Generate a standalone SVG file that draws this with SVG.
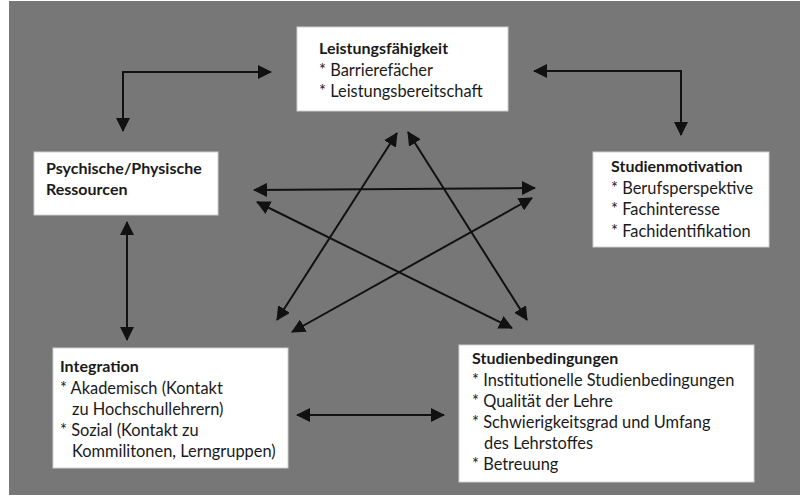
<svg xmlns="http://www.w3.org/2000/svg" width="800" height="500" viewBox="0 0 800 500">
<defs>
<style>
.box{fill:#fff;stroke:#d0d0d0;stroke-width:1}
text{font-family:Lato,"Open Sans","Liberation Sans",sans-serif;font-size:16.4px;fill:#1a1a1a}
.h{font-weight:bold;font-size:16px}
.c line,.c path{stroke:#111;stroke-width:2;fill:none}
</style>
<marker id="ah" viewBox="0 0 14 14" refX="13" refY="7" markerWidth="14" markerHeight="14" markerUnits="userSpaceOnUse" orient="auto-start-reverse">
<path d="M0,0 L14,7 L0,14 z" fill="#111"/>
</marker>
</defs>
<rect x="0" y="0" width="800" height="500" fill="#fff"/>
<rect x="9" y="1" width="791" height="494" fill="#777"/>

<g id="leistung">
<rect class="box" x="297" y="27" width="211" height="84"/>
<text x="319" y="54" class="h">Leistungsfähigkeit</text>
<text x="319" y="76">* Barrierefächer</text>
<text x="319" y="97">* Leistungsbereitschaft</text>
</g>
<g id="ressourcen">
<rect class="box" x="34" y="152" width="184" height="63"/>
<text x="46" y="174" class="h">Psychische/Physische</text>
<text x="46" y="195" class="h">Ressourcen</text>
</g>
<g id="motivation">
<rect class="box" x="593" y="152" width="176" height="95"/>
<text x="611" y="172" class="h">Studienmotivation</text>
<text x="611" y="194">* Berufsperspektive</text>
<text x="611" y="215">* Fachinteresse</text>
<text x="611" y="237">* Fachidentifikation</text>
</g>
<g id="integration">
<rect class="box" x="53" y="348" width="235" height="120"/>
<text x="60" y="372" class="h">Integration</text>
<text x="60" y="394">* Akademisch (Kontakt</text>
<text x="72" y="415">zu Hochschullehrern)</text>
<text x="60" y="436">* Sozial (Kontakt zu</text>
<text x="72" y="457">Kommilitonen, Lerngruppen)</text>
</g>
<g id="bedingungen">
<rect class="box" x="459" y="345" width="295" height="137"/>
<text x="472" y="364" class="h">Studienbedingungen</text>
<text x="472" y="386">* Institutionelle Studienbedingungen</text>
<text x="472" y="407">* Qualität der Lehre</text>
<text x="472" y="428">* Schwierigkeitsgrad und Umfang</text>
<text x="484" y="449">des Lehrstoffes</text>
<text x="472" y="470">* Betreuung</text>
</g>

<g id="connectors" class="c">
<path d="M123,131 V72 H271" marker-start="url(#ah)" marker-end="url(#ah)"/>
<path d="M534,71 H681 V135" marker-start="url(#ah)" marker-end="url(#ah)"/>
<line x1="127" y1="222" x2="127" y2="340" marker-start="url(#ah)" marker-end="url(#ah)"/>
<line x1="297" y1="415" x2="444" y2="415" marker-start="url(#ah)" marker-end="url(#ah)"/>
<line x1="254" y1="190" x2="535" y2="188" marker-start="url(#ah)" marker-end="url(#ah)"/>
<line x1="257" y1="202" x2="512" y2="328" marker-start="url(#ah)" marker-end="url(#ah)"/>
<line x1="532" y1="198" x2="292" y2="332" marker-start="url(#ah)" marker-end="url(#ah)"/>
<line x1="397" y1="133" x2="277" y2="320" marker-start="url(#ah)" marker-end="url(#ah)"/>
<line x1="408" y1="132" x2="527" y2="320" marker-start="url(#ah)" marker-end="url(#ah)"/>
</g>
</svg>
